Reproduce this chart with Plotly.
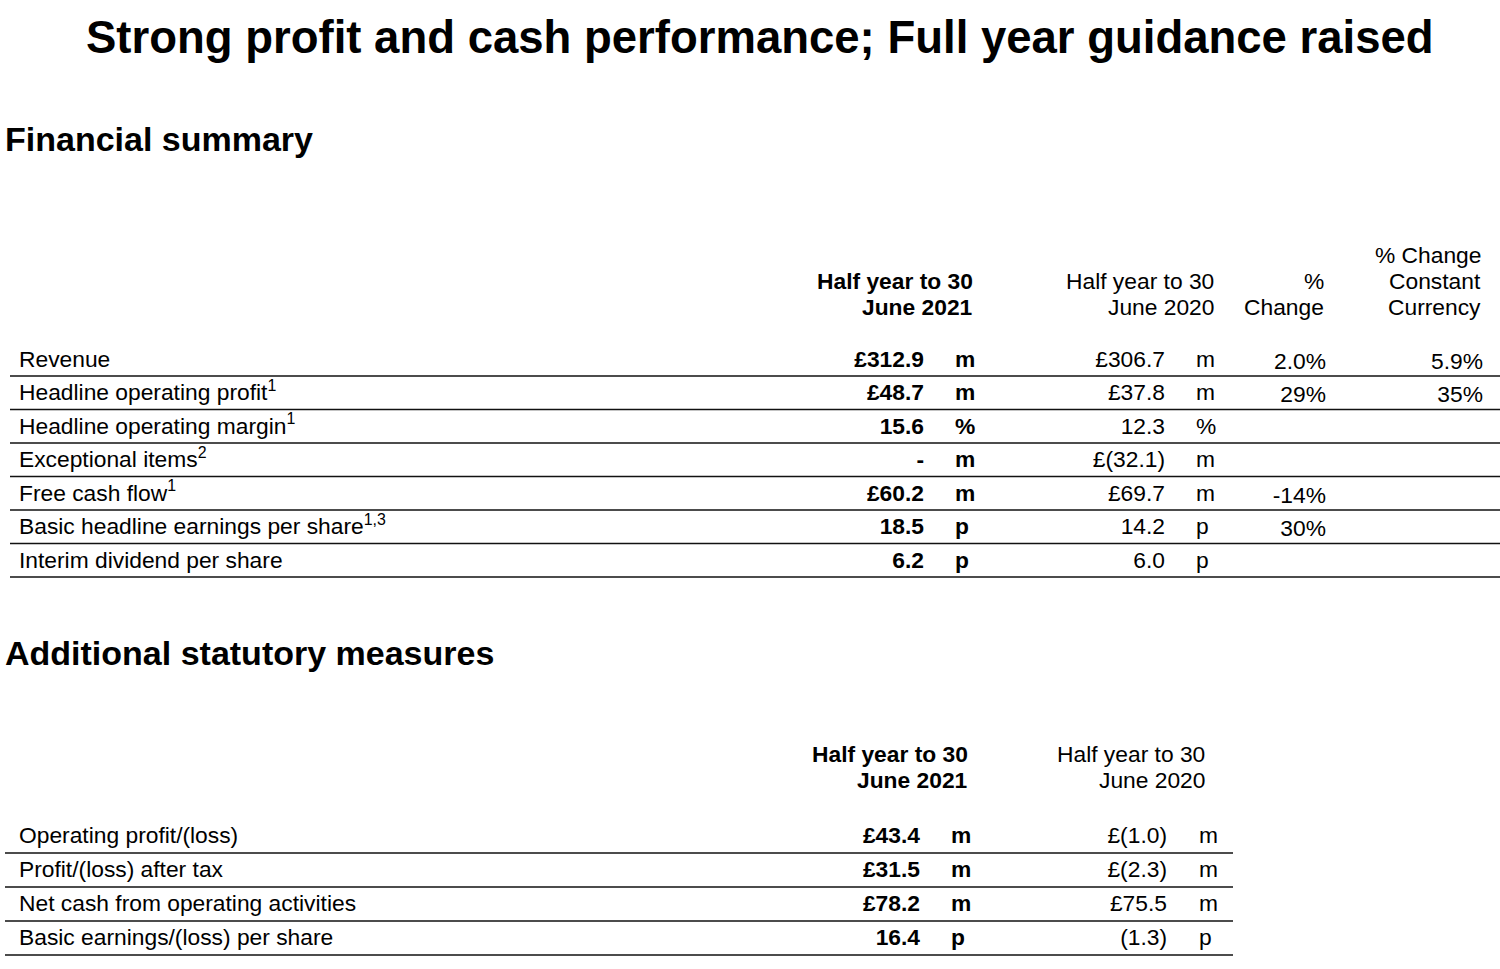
import plotly.graph_objects as go

# -------------------------------------------------
# Data
# -------------------------------------------------
summary_labels = [
    "Revenue",
    "Headline operating profit<sup>1</sup>",
    "Headline operating margin<sup>1</sup>",
    "Exceptional items<sup>2</sup>",
    "Free cash flow<sup>1</sup>",
    "Basic headline earnings per share<sup>1,3</sup>",
    "Interim dividend per share",
]
summary_2021 = ["£312.9", "£48.7", "15.6", "-", "£60.2", "18.5", "6.2"]
summary_2020 = ["£306.7", "£37.8", "12.3", "£(32.1)", "£69.7", "14.2", "6.0"]
summary_units = ["m", "m", "%", "m", "m", "p", "p"]
summary_change = ["2.0%", "29%", "", "", "-14%", "30%", ""]
summary_change_cc = ["5.9%", "35%", "", "", "", "", ""]
summary_headers = [
    ["Half year to 30", "June 2021"],
    ["Half year to 30", "June 2020"],
    ["%", "Change"],
    ["% Change", "Constant", "Currency"],
]

statutory_labels = [
    "Operating profit/(loss)",
    "Profit/(loss) after tax",
    "Net cash from operating activities",
    "Basic earnings/(loss) per share",
]
statutory_2021 = ["£43.4", "£31.5", "£78.2", "16.4"]
statutory_2020 = ["£(1.0)", "£(2.3)", "£75.5", "(1.3)"]
statutory_units = ["m", "m", "m", "p"]
statutory_headers = [
    ["Half year to 30", "June 2021"],
    ["Half year to 30", "June 2020"],
]

TITLE = "Strong profit and cash performance; Full year guidance raised"
SECTION_1 = "Financial summary"
SECTION_2 = "Additional statutory measures"

FONT = "Liberation Sans, Arial, sans-serif"
BODY = 22.8

fig = go.Figure()


def text_col(x, ys, texts, pos, bold=False, dy=2):
    # blank cells are simply left out
    cells = [(y, t) for y, t in zip(ys, texts) if t]
    fig.add_trace(go.Scatter(
        x=[x] * len(cells),
        y=[y + dy for y, _ in cells],
        text=[f"<b>{t}</b>" if bold else t for _, t in cells],
        mode="text",
        textposition=pos,
        textfont=dict(family=FONT, size=BODY, color="black"),
        hoverinfo="skip",
        showlegend=False,
    ))


def separators(ys, x0, x1):
    xs, yy = [], []
    for y in ys:
        xs += [x0, x1, None]
        yy += [y, y, None]
    fig.add_trace(go.Scatter(
        x=xs, y=yy, mode="lines",
        line=dict(color="#111111", width=1.6),
        hoverinfo="skip", showlegend=False,
    ))


def headers(cols, xs, bottom, bolds):
    for lines, x, b in zip(cols, xs, bolds):
        n = len(lines)
        for k, line in enumerate(lines):
            fig.add_annotation(
                x=x, y=bottom - (n - 1 - k) * 26,
                text=f"<b>{line}</b>" if b else line,
                xanchor="right", yanchor="middle", showarrow=False,
                font=dict(family=FONT, size=BODY, color="black"),
            )


# -------------------------------------------------
# Table 1: Financial summary
# -------------------------------------------------
rows1 = [359 + i * 33.5 for i in range(len(summary_labels))]
separators([y + 17 for y in rows1], 10, 1500)
text_col(19, rows1, summary_labels, "middle right")
text_col(924, rows1, summary_2021, "middle left", bold=True)
text_col(955, rows1, summary_units, "middle right", bold=True)
text_col(1165, rows1, summary_2020, "middle left")
text_col(1196, rows1, summary_units, "middle right")
text_col(1326, rows1, summary_change, "middle left", dy=4)
text_col(1483, rows1, summary_change_cc, "middle left", dy=4)
headers(summary_headers, [975, 1216, 1326, 1483], 307, [True, False, False, False])

# -------------------------------------------------
# Table 2: Additional statutory measures
# -------------------------------------------------
rows2 = [835 + i * 34 for i in range(len(statutory_labels))]
separators([y + 18 for y in rows2], 5, 1233)
text_col(19, rows2, statutory_labels, "middle right")
text_col(920, rows2, statutory_2021, "middle left", bold=True)
text_col(951, rows2, statutory_units, "middle right", bold=True)
text_col(1167, rows2, statutory_2020, "middle left")
text_col(1199, rows2, statutory_units, "middle right")
headers(statutory_headers, [970, 1207], 780, [True, False])

# -------------------------------------------------
# Titles
# -------------------------------------------------
fig.add_annotation(x=760, y=37, text=f"<b>{TITLE}</b>", showarrow=False,
                   xanchor="center", yanchor="middle",
                   font=dict(family=FONT, size=45.5, color="black"))
fig.add_annotation(x=3, y=139, text=f"<b>{SECTION_1}</b>",
                   showarrow=False, xanchor="left", yanchor="middle",
                   font=dict(family=FONT, size=34, color="black"))
fig.add_annotation(x=3, y=653, text=f"<b>{SECTION_2}</b>",
                   showarrow=False, xanchor="left", yanchor="middle",
                   font=dict(family=FONT, size=34, color="black"))

fig.update_xaxes(range=[0, 1500], visible=False, fixedrange=True)
fig.update_yaxes(range=[969, 0], visible=False, fixedrange=True)
fig.update_layout(
    width=1500, height=969,
    margin=dict(l=0, r=0, t=0, b=0),
    plot_bgcolor="white", paper_bgcolor="white",
)

# drop the default body margin so the 1500x969 figure fills the window exactly
fig.write_html(
    "out.html",
    config={"displayModeBar": False},
    post_script="document.body.style.margin='0';document.body.style.overflow='hidden';",
)
